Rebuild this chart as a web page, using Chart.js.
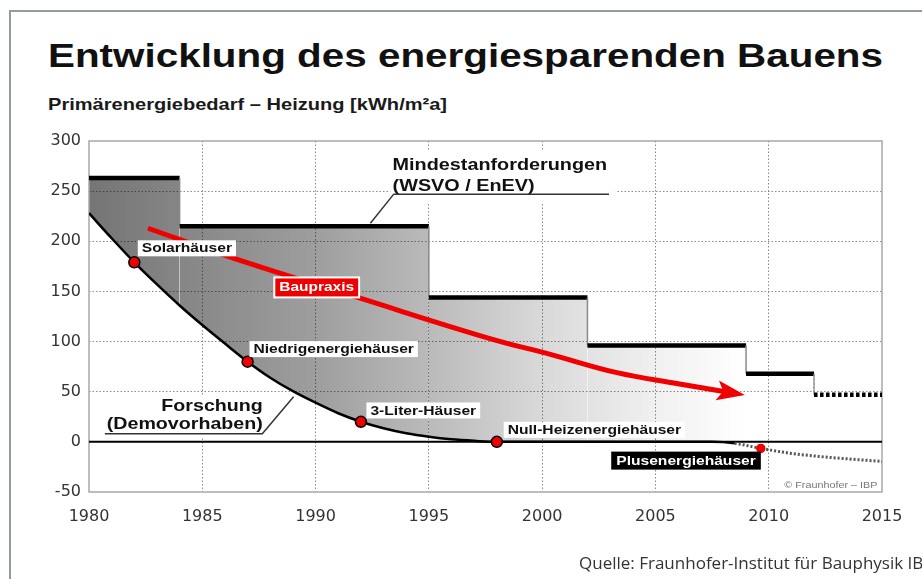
<!DOCTYPE html>
<html lang="de">
<head>
<meta charset="utf-8">
<title>Entwicklung des energiesparenden Bauens</title>
<script src="https://cdn.jsdelivr.net/npm/chart.js@4.4.1/dist/chart.umd.min.js"></script>
<style>
  html, body { margin: 0; padding: 0; background: #fff; }
  body { width: 922px; height: 579px; position: relative; overflow: hidden; }
  .frame { position: absolute; left: 9px; top: 10px; width: 960px; height: 620px;
           border-left: 2px solid #8f9ba5; border-top: 2px solid #8f9ba5; }
  #chart { position: absolute; left: 0; top: 0; }
  .title { position: absolute; left: 48px; top: 38.8px; margin: 0; white-space: nowrap;
           font: bold 33px/33px "Liberation Sans", Arial, sans-serif; color: #111;
           transform: scaleX(1.224); transform-origin: 0 0; }
  .subtitle { position: absolute; left: 48px; top: 95.6px; white-space: nowrap;
              font: bold 17px/17px "Liberation Sans", Arial, sans-serif; color: #1a1a1a;
              transform: scaleX(1.18); transform-origin: 0 0; }
  .source { position: absolute; left: 579px; top: 554px; white-space: nowrap;
            font: 17px/17px "Open Sans", sans-serif; color: #333; }
</style>
</head>
<body>
<div class="frame"></div>
<h1 class="title">Entwicklung des energiesparenden Bauens</h1>
<div class="subtitle">Primärenergiebedarf – Heizung [kWh/m²a]</div>
<canvas id="chart" width="922" height="579"></canvas>
<div class="source">Quelle: Fraunhofer-Institut für Bauphysik IBP</div>

<script>
// Mindestanforderungen (WSVO / EnEV), als Stufen
const mindestYears  = [1980, 1984, 1984, 1995, 1995, 2002, 2002, 2009, 2009, 2012, 2012, 2015];
const mindestValues = [263, 263, 215, 215, 144, 144, 96, 96, 68, 68, 47, 47];

// Forschung (Demovorhaben)
const forschungYears  = [1980, 1981, 1982, 1983, 1984, 1985, 1986, 1987, 1988, 1989, 1990, 1991, 1992,
                         1993, 1994, 1995, 1996, 1997, 1998, 2002, 2006, 2007.5, 2008.5, 2009.65,
                         2011, 2012.2, 2013.5, 2015];
const forschungValues = [228, 203, 179, 157, 136, 116.5, 98, 80, 64, 50.5, 39, 28.5, 20,
                         13.5, 8.5, 5, 2.5, 1, 0, 0, 0, 0, -1.5, -6.5,
                         -11.5, -14.5, -17, -19.5];

// Baupraxis
const bauYears  = [1982.6, 1986.4, 1992, 1997.7, 2000.4, 2003.3, 2006, 2008.6];
const bauValues = [213, 183, 143, 103, 87, 69, 58, 48];

// Meilensteine der Forschung
const milestoneNames  = ['Solarhäuser', 'Niedrigenergiehäuser', '3-Liter-Häuser',
                         'Null-Heizenergiehäuser', 'Plusenergiehäuser'];
const milestoneYears  = [1982, 1987, 1992, 1998, 2009.65];
const milestoneValues = [179, 80, 20, 0, -6.5];

// Nulllinie
const zeroYears  = [1980, 2015];
const zeroValues = [0, 0];

// Achsen
const xTicks = [1980, 1985, 1990, 1995, 2000, 2005, 2010, 2015];
const yTicks = [-50, 0, 50, 100, 150, 200, 250, 300];

const pts = (xs, ys) => xs.map((x, i) => ({ x: x, y: ys[i] }));

// grey shading between Mindestanforderungen and Forschung, fading to the right
function shade(c) {
    const chart = c.chart;
    if (!chart.chartArea) return 'rgba(0,0,0,0.3)';
    const xs = chart.scales.x;
    const g = chart.ctx.createLinearGradient(xs.getPixelForValue(1980), 0, xs.getPixelForValue(2009), 0);
    g.addColorStop(0, 'rgba(0,0,0,0.54)');
    g.addColorStop(0.345, 'rgba(0,0,0,0.38)');
    g.addColorStop(0.517, 'rgba(0,0,0,0.27)');
    g.addColorStop(0.69, 'rgba(0,0,0,0.15)');
    g.addColorStop(0.862, 'rgba(0,0,0,0.06)');
    g.addColorStop(1, 'rgba(0,0,0,0)');
    return g;
}

const isVertical = c => c.p0.parsed.x === c.p1.parsed.x;

function stretchText(ctx, str, x, y, size, sx, align, color) {
    ctx.save();
    ctx.font = 'bold ' + size + 'px "Liberation Sans", Arial, sans-serif';
    ctx.fillStyle = color;
    ctx.textBaseline = 'middle';
    ctx.textAlign = align || 'left';
    ctx.translate(x, y);
    ctx.scale(sx, 1);
    ctx.fillText(str, 0, 0);
    const w = ctx.measureText(str).width * sx;
    ctx.restore();
    return w;
}

// plot frame
const framePlugin = {
    id: 'frame',
    beforeDatasetsDraw(chart) {
        const { ctx, chartArea: a } = chart;
        ctx.save();
        ctx.strokeStyle = '#a8a8a8';
        ctx.lineWidth = 1.5;
        ctx.strokeRect(a.left, a.top, a.right - a.left, a.bottom - a.top);
        ctx.restore();
    }
};

// label boxes: which milestone, where the text starts (data coords)
const boxLabels = [
    { i: 0, x: 1982.33, y: 193 },
    { i: 1, x: 1987.26, y: 92.5 },
    { i: 2, x: 1992.42, y: 31.3 },
    { i: 3, x: 1998.48, y: 12 },
    { i: 4, x: 2003.27, y: -18.7, bg: '#000', fg: '#fff', h: 18, pad: 5 }
];

const annotationPlugin = {
    id: 'annotations',
    afterDatasetsDraw(chart) {
        const { ctx, scales: { x, y } } = chart;
        const X = v => x.getPixelForValue(v);
        const Y = v => y.getPixelForValue(v);

        // arrow head of Baupraxis
        const bau = chart.getDatasetMeta(1).data;
        const end = bau[bau.length - 1];
        const prev = bau[bau.length - 2];
        let dx = end.x - (end.cp1x !== undefined ? end.cp1x : prev.x);
        let dy = end.y - (end.cp1y !== undefined ? end.cp1y : prev.y);
        const len = Math.hypot(dx, dy);
        dx /= len; dy /= len;
        const tipX = end.x + dx * 8, tipY = end.y + dy * 8;
        const bx = tipX - dx * 28, by = tipY - dy * 28;
        ctx.save();
        ctx.fillStyle = '#f00000';
        ctx.beginPath();
        ctx.moveTo(tipX, tipY);
        ctx.lineTo(bx - dy * 10, by + dx * 10);
        ctx.lineTo(tipX - dx * 22, tipY - dy * 22);
        ctx.lineTo(bx + dy * 10, by - dx * 10);
        ctx.closePath();
        ctx.fill();
        ctx.restore();

        ctx.save();
        // Mindestanforderungen label
        ctx.fillStyle = '#fff';
        ctx.fillRect(X(1993.3), Y(290), X(2003.25) - X(1993.3), Y(239) - Y(290));
        stretchText(ctx, 'Mindestanforderungen', X(1993.4), Y(276), 16.5, 1.2, 'left', '#111');
        stretchText(ctx, '(WSVO / EnEV)', X(1993.4), Y(255), 16.5, 1.2, 'left', '#111');
        ctx.strokeStyle = '#333';
        ctx.lineWidth = 1.5;
        ctx.beginPath();
        ctx.moveTo(X(1992.42), Y(218));
        ctx.lineTo(X(1993.45), Y(247));
        ctx.lineTo(X(2002.95), Y(247));
        ctx.stroke();

        // Forschung label
        ctx.fillStyle = '#fff';
        ctx.fillRect(X(1980.5), Y(46), X(1987.9) - X(1980.5), Y(4) - Y(46));
        stretchText(ctx, 'Forschung', X(1987.67), Y(35.5), 16.5, 1.19, 'right', '#111');
        stretchText(ctx, '(Demovorhaben)', X(1987.67), Y(17), 16.5, 1.19, 'right', '#111');
        ctx.beginPath();
        ctx.moveTo(X(1980.7), Y(8));
        ctx.lineTo(X(1987.65), Y(8));
        ctx.lineTo(X(1989.03), Y(45));
        ctx.stroke();

        // milestone boxes
        boxLabels.forEach(l => {
            const text = milestoneNames[l.i];
            const h = l.h || 16, pad = l.pad || 4;
            ctx.font = 'bold 13px "Liberation Sans", Arial, sans-serif';
            const w = ctx.measureText(text).width * 1.2;
            const lx = X(l.x), cy = Y(l.y);
            ctx.fillStyle = l.bg || '#fff';
            ctx.fillRect(lx - pad, cy - h / 2, w + pad * 2, h);
            stretchText(ctx, text, lx, cy + 0.5, 13, 1.2, 'left', l.fg || '#111');
        });

        // Baupraxis box
        {
            ctx.font = 'bold 13px "Liberation Sans", Arial, sans-serif';
            const w = ctx.measureText('Baupraxis').width * 1.19;
            const lx = X(1988.4), cy = Y(154);
            ctx.fillStyle = '#fff';
            ctx.fillRect(lx - 6, cy - 11, w + 12, 22);
            ctx.fillStyle = '#ee0000';
            ctx.fillRect(lx - 4, cy - 9, w + 8, 18);
            stretchText(ctx, 'Baupraxis', lx, cy + 0.5, 13, 1.19, 'left', '#fff');
        }

        // copyright
        ctx.font = '9px "Liberation Sans", Arial, sans-serif';
        ctx.fillStyle = '#777';
        ctx.textAlign = 'right';
        ctx.textBaseline = 'middle';
        ctx.save();
        ctx.translate(X(2014.8), Y(-44));
        ctx.scale(1.2, 1);
        ctx.fillText('© Fraunhofer – IBP', 0, 0);
        ctx.restore();
        ctx.restore();
    }
};

const gridColor = edges => c => edges.includes(c.tick.value) ? 'rgba(0,0,0,0)' : '#8a8a8a';
const tickFont = { family: '"DejaVu Sans", sans-serif', size: 16 };

new Chart(document.getElementById('chart'), {
    type: 'line',
    data: {
        datasets: [
            {
                label: 'Meilensteine',
                data: pts(milestoneYears, milestoneValues),
                showLine: false,
                pointRadius: c => c.dataIndex === 4 ? 4 : 5.5,
                pointBackgroundColor: '#f00000',
                pointBorderColor: c => c.dataIndex === 4 ? '#f00000' : '#000',
                pointBorderWidth: 1.5
            },
            {
                label: 'Baupraxis',
                data: pts(bauYears, bauValues),
                borderColor: '#f00000',
                borderWidth: 5,
                pointRadius: 0,
                tension: 0.4,
                borderCapStyle: 'butt'
            },
            {
                label: 'Mindestanforderungen (WSVO / EnEV)',
                data: pts(mindestYears, mindestValues),
                borderColor: '#000',
                borderWidth: 4.5,
                pointRadius: 0,
                tension: 0,
                fill: 3,
                backgroundColor: shade,
                segment: {
                    borderColor: c => isVertical(c) ? '#8a8a8a' : undefined,
                    borderWidth: c => isVertical(c) ? 1.5 : undefined,
                    borderDash: c => c.p0.parsed.x >= 2012 ? (isVertical(c) ? [2, 2] : [3.5, 2.5]) : undefined
                }
            },
            {
                label: 'Forschung (Demovorhaben)',
                data: pts(forschungYears, forschungValues),
                borderColor: '#000',
                borderWidth: 2.5,
                pointRadius: 0,
                cubicInterpolationMode: 'monotone',
                segment: {
                    borderColor: c => c.p0.parsed.x >= 2008.5 ? '#555' : undefined,
                    borderWidth: c => c.p0.parsed.x >= 2008.5 ? 3 : undefined,
                    borderDash: c => c.p0.parsed.x >= 2008.5 ? [2, 2] : undefined
                }
            },
            {
                label: 'Null',
                data: pts(zeroYears, zeroValues),
                borderColor: '#000',
                borderWidth: 2,
                pointRadius: 0
            }
        ]
    },
    options: {
        responsive: false,
        animation: false,
        events: [],
        layout: { padding: { top: 141, right: 40, bottom: 47, left: 0 } },
        plugins: {
            legend: { display: false },
            tooltip: { enabled: false },
            filler: { drawTime: 'beforeDatasetsDraw' }
        },
        scales: {
            x: {
                type: 'linear',
                min: 1980,
                max: 2015,
                afterFit: s => { s.height = 40; },
                afterBuildTicks: s => { s.ticks = xTicks.map(v => ({ value: v })); },
                ticks: { font: tickFont, color: '#333', padding: 15, maxRotation: 0, callback: v => String(v) },
                grid: { color: gridColor([1980, 2015]), lineWidth: 1, drawTicks: false },
                border: { display: false, dash: [1.5, 2] }
            },
            y: {
                type: 'linear',
                min: -50,
                max: 300,
                afterFit: s => { s.width = 89; },
                afterBuildTicks: s => { s.ticks = yTicks.map(v => ({ value: v })); },
                ticks: { font: tickFont, color: '#333', padding: 8, callback: v => String(v) },
                grid: { color: gridColor([-50, 0, 300]), lineWidth: 1, drawTicks: false },
                border: { display: false, dash: [1.5, 2] }
            }
        }
    },
    plugins: [framePlugin, annotationPlugin]
});
</script>
</body>
</html>
